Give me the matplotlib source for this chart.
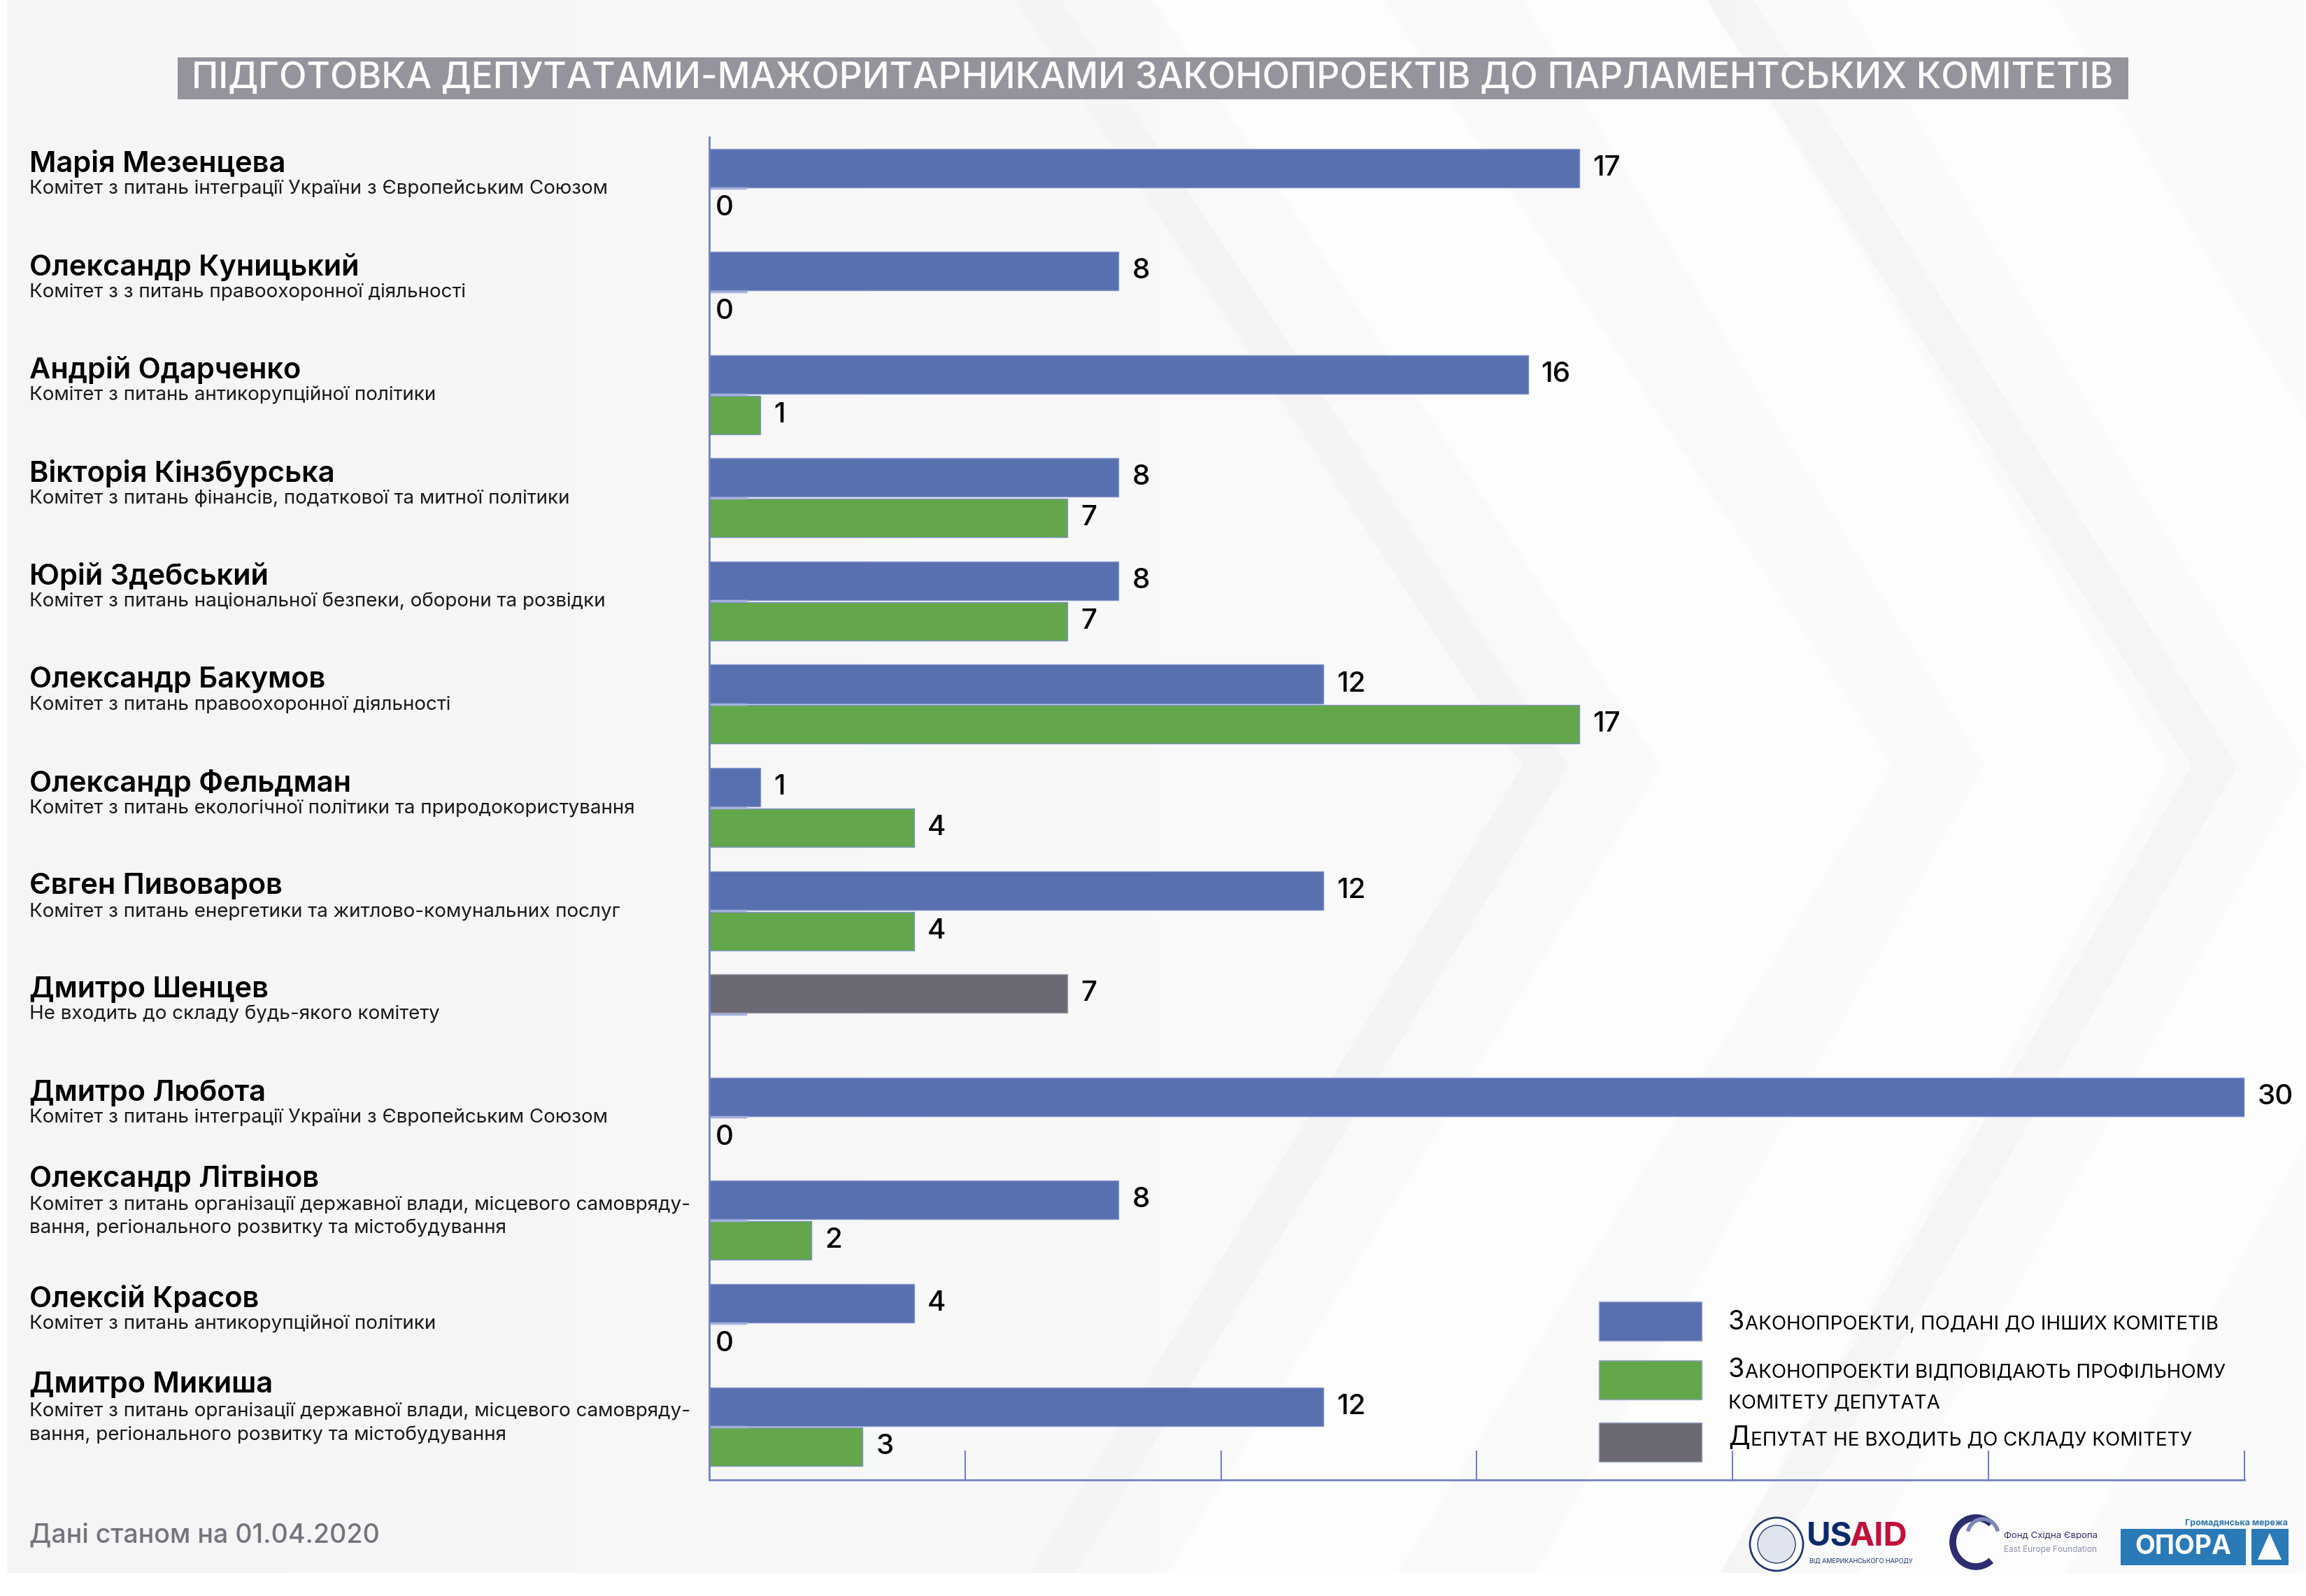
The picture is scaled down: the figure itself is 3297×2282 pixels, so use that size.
import numpy as np
import matplotlib
matplotlib.use('Agg')
import matplotlib.pyplot as plt
from matplotlib import transforms
from matplotlib.patches import Rectangle, Polygon, Ellipse, Arc
from matplotlib.text import Annotation

plt.rcParams['font.family'] = ['Inter', 'DejaVu Sans']

W, H = 3298, 2282

title = 'ПІДГОТОВКА ДЕПУТАТАМИ-МАЖОРИТАРНИКАМИ ЗАКОНОПРОЕКТІВ ДО ПАРЛАМЕНТСЬКИХ КОМІТЕТІВ'

names = ['Марія Мезенцева', 'Олександр Куницький', 'Андрій Одарченко',
         'Вікторія Кінзбурська', 'Юрій Здебський', 'Олександр Бакумов',
         'Олександр Фельдман', 'Євген Пивоваров', 'Дмитро Шенцев',
         'Дмитро Любота', 'Олександр Літвінов', 'Олексій Красов', 'Дмитро Микиша']

committees = [
    'Комітет з питань інтеграції України з Європейським Союзом',
    'Комітет з з питань правоохоронної діяльності',
    'Комітет з питань антикорупційної політики',
    'Комітет з питань фінансів, податкової та митної політики',
    'Комітет з питань національної безпеки, оборони та розвідки',
    'Комітет з питань правоохоронної діяльності',
    'Комітет з питань екологічної політики та природокористування',
    'Комітет з питань енергетики та житлово-комунальних послуг',
    'Не входить до складу будь-якого комітету',
    'Комітет з питань інтеграції України з Європейським Союзом',
    'Комітет з питань організації державної влади, місцевого самовряду-\nвання, регіонального розвитку та містобудування',
    'Комітет з питань антикорупційної політики',
    'Комітет з питань організації державної влади, місцевого самовряду-\nвання, регіонального розвитку та містобудування',
]

# bills submitted to other committees (blue)
other_committees = [17, 8, 16, 8, 8, 12, 1, 12, np.nan, 30, 8, 4, 12]
# bills matching the deputy's own committee (green)
own_committee = [0, 0, 1, 7, 7, 17, 4, 4, np.nan, 0, 2, 0, 3]
# deputy is not a committee member (gray)
no_committee = [np.nan] * 8 + [7] + [np.nan] * 4

legend_labels = ['Законопроекти, подані до інших комітетів',
                 'Законопроекти відповідають профільному\nкомітету депутата',
                 'Депутат не входить до складу комітету']

footer = 'Дані станом на 01.04.2020'

BLUE = '#5870b0'
GREEN = '#63a74a'
GRAY = '#6c6874'
AXIS = '#6f83c2'


def fx(px):
    return px / W


def fy(py):
    return 1 - py / H


fig = plt.figure(figsize=(W / 100, H / 100), dpi=100)

# background
bg = fig.add_axes([0, 0, 1, 1], zorder=-10)
bg.set_xlim(0, 1)
bg.set_ylim(0, 1)
bg.axis('off')
grad = np.linspace(0, 1, 256)[None, :]
bg.imshow(grad, extent=[0, 1, 0, 1], aspect='auto', cmap=matplotlib.colors.LinearSegmentedColormap.from_list(
    'bgc', ['#f4f5f5', '#f9f9f9', '#fbfbfb']), zorder=0)
for x0, x1, w in [(0.50, 0.72, 0.10), (0.66, 0.86, 0.08), (0.80, 1.00, 0.09)]:
    bg.add_patch(Polygon([(x0, 1.0), (x1, 0.52), (x0, 0.0), (x0 + w, 0.0), (x1 + w, 0.52), (x0 + w, 1.0)],
                         closed=True, facecolor='#ffffff', edgecolor='none', alpha=0.75, zorder=1))
for x0, x1, w in [(0.44, 0.66, 0.02), (0.74, 0.95, 0.02)]:
    bg.add_patch(Polygon([(x0, 1.0), (x1, 0.52), (x0, 0.0), (x0 + w, 0.0), (x1 + w, 0.52), (x0 + w, 1.0)],
                         closed=True, facecolor='#ebebec', edgecolor='none', alpha=0.3, zorder=1))
bg.add_patch(Rectangle((0, 0), 1, 1 - 2249 / H, facecolor='white', edgecolor='none', zorder=2))
bg.add_patch(Rectangle((0, 0), fx(10), 1, facecolor='white', edgecolor='none', zorder=2))

# title band
fig.patches.append(Rectangle((fx(254), fy(142)), fx(3043 - 254), (142 - 82) / H, transform=fig.transFigure,
                             facecolor='#96939c', edgecolor='none', zorder=1))
fig.text(fx(1648), fy(112), title, color='white', fontsize=37, weight='medium',
         ha='center', va='center', zorder=2)

# main axes
ax_left, ax_right, ax_top, ax_bottom = 1014, 3209, 196, 2116
ax = fig.add_axes([fx(ax_left), fy(ax_bottom), fx(ax_right - ax_left), (ax_bottom - ax_top) / H])
ax.set_facecolor('none')

n = len(names)
ypos = np.arange(n)
off = 0.196
bh = 0.373

ax.barh(ypos - off, other_committees, height=bh, color=BLUE, edgecolor='#7e90c8', linewidth=1)
ax.barh(ypos - off, no_committee, height=bh, color=GRAY, edgecolor='#9a96a2', linewidth=1)
ax.barh(ypos + off, own_committee, height=bh, color=GREEN, edgecolor='#7e90c8', linewidth=1)

for series, dy in [(other_committees, -off), (no_committee, -off), (own_committee, off)]:
    for i, v in enumerate(series):
        if np.isnan(v):
            continue
        ax.annotate('%d' % v, xy=(v, i + dy), xytext=(19 if v > 0 else 9, 0), textcoords='offset pixels',
                    ha='left', va='center', fontsize=29, weight='medium', color='black')

ax.set_xlim(0, 30)
ax.set_ylim(n - 1 + 0.515, -0.495)
ax.set_xticks(np.arange(5, 31, 5))
ax.set_xticklabels([])
ax.set_yticks(ypos)
ax.set_yticklabels([])
ax.tick_params(axis='x', direction='in', length=30, width=1.5, color=AXIS)
ax.tick_params(axis='y', direction='in', length=39, width=2.5, color='#a3b0dc')
for s in ['top', 'right']:
    ax.spines[s].set_visible(False)
for s in ['left', 'bottom']:
    ax.spines[s].set_color(AXIS)
    ax.spines[s].set_linewidth(2)

# names and committees on the left
tr = transforms.blended_transform_factory(fig.transFigure, ax.transData)
unit = (ax_bottom - ax_top) / (n - 1 + 0.515 + 0.495)
for i, (nm, cm) in enumerate(zip(names, committees)):
    lines = cm.split('\n')
    if len(lines) == 1:
        name_off, line_offs = -35, [1]
    else:
        name_off, line_offs = -60, [-22, 12]
    ax.text(fx(42), i + name_off / unit, nm, transform=tr, ha='left', va='center',
            fontsize=30, weight='semibold', color='black')
    for ln, lo in zip(lines, line_offs):
        ax.text(fx(42), i + lo / unit, ln, transform=tr, ha='left', va='center',
                fontsize=20, color='#1a1a1a')

# legend
leg_colors = [BLUE, GREEN, GRAY]
leg_boxes = [1861, 1945, 2034]
for c, yb in zip(leg_colors, leg_boxes):
    fig.patches.append(Rectangle((fx(2286), fy(yb + 56)), fx(147), 56 / H, transform=fig.transFigure,
                                 facecolor=c, edgecolor='#9aa6cf', linewidth=1, zorder=3))


def small_caps(x, y, text, first_cap=True):
    if not first_cap:
        return fig.text(fx(x), fy(y), text.upper(), fontsize=20, ha='left', va='baseline', zorder=4)
    t0 = fig.text(fx(x), fy(y), text[0].upper(), fontsize=27, ha='left', va='baseline', zorder=4)
    a = Annotation(text[1:].upper(), xy=(1, fy(y)), xycoords=(t0, 'figure fraction'),
                   xytext=(1, 0), textcoords='offset pixels',
                   fontsize=20, ha='left', va='baseline', zorder=4)
    fig.add_artist(a)
    return a


small_caps(2471, 1901, legend_labels[0].split('\n')[0])
small_caps(2471, 1969, legend_labels[1].split('\n')[0])
small_caps(2471, 2013, legend_labels[1].split('\n')[1], first_cap=False)
small_caps(2471, 2066, legend_labels[2].split('\n')[0])

# footer
fig.text(fx(42), fy(2195), footer, fontsize=27, weight='medium', color='#77737d', ha='left', va='center')

# partner logos (approximation)
fig.patches.append(Ellipse((fx(2540), fy(2208)), 76 / W, 76 / H, transform=fig.transFigure, facecolor='white',
                           edgecolor='#1f3b73', linewidth=2, zorder=3))
fig.patches.append(Ellipse((fx(2540), fy(2208)), 54 / W, 54 / H, transform=fig.transFigure, facecolor='#dfe4ee',
                           edgecolor='#1f3b73', linewidth=1, zorder=3))
fig.text(fx(2583), fy(2198), 'US', fontsize=34, weight='bold', color='#0b2a6b', ha='left', va='center')
fig.text(fx(2645), fy(2198), 'AID', fontsize=34, weight='bold', color='#c2113a', ha='left', va='center')
fig.text(fx(2587), fy(2232), 'ВІД АМЕРИКАНСЬКОГО НАРОДУ', fontsize=6.5, color='#0b2a6b', ha='left', va='center')
fig.patches.append(Arc((fx(2825), fy(2205)), 66 / W, 70 / H, theta1=60, theta2=300,
                       transform=fig.transFigure, color='#2b2d6e', linewidth=7, zorder=3))
fig.patches.append(Arc((fx(2835), fy(2195)), 44 / W, 46 / H, theta1=20, theta2=160,
                       transform=fig.transFigure, color='#7d86b8', linewidth=4, zorder=3))
fig.text(fx(2865), fy(2196), 'Фонд Східна Європа', fontsize=9.5, color='#2b2d6e', ha='left', va='center')
fig.text(fx(2865), fy(2216), 'East Europe Foundation', fontsize=8.5, color='#8b8fb0', ha='left', va='center')
fig.text(fx(3271), fy(2177), 'Громадянська мережа', fontsize=9, weight='bold', color='#2f78b0',
         ha='right', va='center')
fig.patches.append(Rectangle((fx(3032), fy(2238)), fx(179), 52 / H, transform=fig.transFigure,
                             facecolor='#2a7ab8', edgecolor='none', zorder=3))
fig.patches.append(Rectangle((fx(3219), fy(2238)), fx(53), 52 / H, transform=fig.transFigure,
                             facecolor='#2a7ab8', edgecolor='none', zorder=3))
fig.text(fx(3121), fy(2212), 'ОПОРА', fontsize=27, weight='bold', color='white', ha='center', va='center',
         zorder=4)
fig.patches.append(Polygon([(fx(3245), fy(2192)), (fx(3262), fy(2230)), (fx(3228), fy(2230))], closed=True,
                           transform=fig.transFigure, facecolor='white', edgecolor='none', zorder=4))

fig.savefig('out.png', dpi=100)
